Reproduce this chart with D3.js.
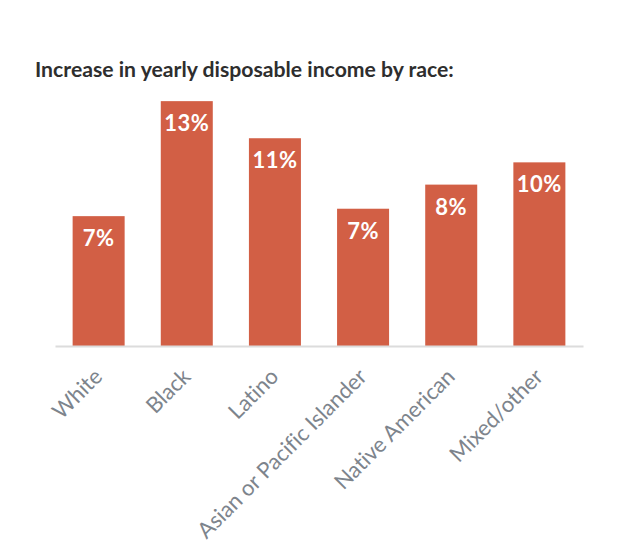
<!DOCTYPE html>
<html>
<head>
<meta charset="utf-8">
<script src="https://cdn.jsdelivr.net/npm/d3@7"></script>
<style>
  html, body { margin: 0; padding: 0; background: #fff; }
  svg { display: block; }
  .tick text { font-variant-ligatures: none; font-feature-settings: "liga" 0; }
</style>
</head>
<body>
<svg id="chart" width="620" height="558"></svg>
<script>
const categories = ["White", "Black", "Latino", "Asian or Pacific Islander", "Native American", "Mixed/other"];
const values = [7.0, 13.2, 11.2, 7.4, 8.7, 9.9];
const valueLabels = ["7%", "13%", "11%", "7%", "8%", "10%"];
const title = "Increase in yearly disposable income by race:";

const svg = d3.select("#chart");
const baseY = 346;

const x = d3.scaleBand()
  .domain(categories)
  .range([55, 583])
  .paddingInner(0.41)
  .paddingOuter(0.2);

const y = d3.scaleLinear()
  .domain([0, 14])
  .range([baseY, baseY - 14 * 18.55]);

svg.append("text")
  .attr("x", 35)
  .attr("y", 77)
  .attr("font-family", "Lato, sans-serif")
  .attr("font-weight", 700)
  .attr("font-size", 21.2)
  .attr("fill", "#2e2e2e")
  .text(title);

svg.append("g")
  .selectAll("rect")
  .data(categories)
  .join("rect")
  .attr("x", d => x(d))
  .attr("width", x.bandwidth())
  .attr("y", (d, i) => y(values[i]))
  .attr("height", (d, i) => y(0) - y(values[i]))
  .attr("fill", "#d25f45");

const axis = svg.append("g")
  .attr("transform", `translate(0,${baseY})`)
  .call(d3.axisBottom(x).tickSize(0).tickSizeOuter(0));
axis.select(".domain").attr("stroke", "#dcdcdc").attr("stroke-width", 2);
axis.selectAll(".tick text")
  .attr("x", 0).attr("y", 0).attr("dy", 0)
  .attr("transform", "translate(5,32) rotate(-45)")
  .attr("text-anchor", "end")
  .attr("font-family", "Lato, sans-serif")
  .attr("font-size", 22)
  .attr("fill", "#7d848c");

svg.append("g")
  .selectAll("text")
  .data(categories)
  .join("text")
  .attr("x", d => x(d) + x.bandwidth() / 2)
  .attr("y", (d, i) => y(values[i]) + 30)
  .attr("text-anchor", "middle")
  .attr("font-family", "Lato, sans-serif")
  .attr("font-weight", 700)
  .attr("font-size", 22)
  .attr("letter-spacing", 0.5)
  .attr("fill", "#ffffff")
  .text((d, i) => valueLabels[i]);
</script>
</body>
</html>
